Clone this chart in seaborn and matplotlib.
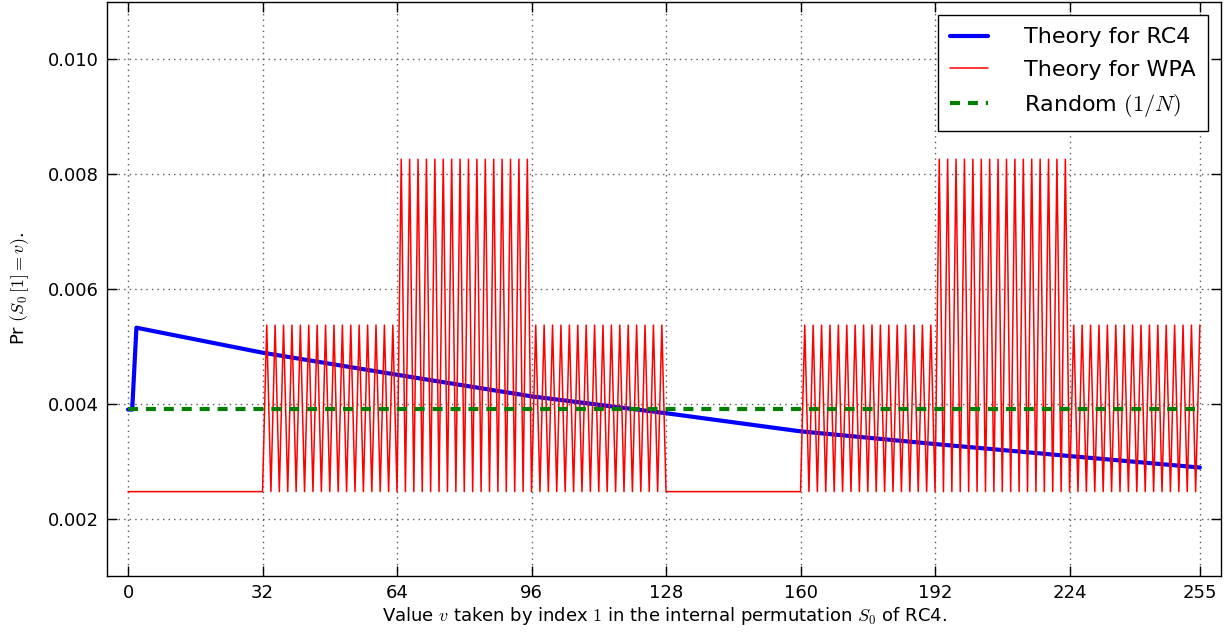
import numpy as np
import pandas as pd
import matplotlib
matplotlib.use("Agg")
import matplotlib.pyplot as plt
import seaborn as sns

# --- data ---
RC4_V = [0, 1, 2, 32, 64, 96, 128, 160, 192, 224, 255]
RC4_P = [0.0039, 0.0039, 0.005325, 0.00489, 0.004506, 0.00413, 0.003836,
         0.00352, 0.003299, 0.00309, 0.00289]

# WPA levels per value v (L = low, M = mid, H = high), 8 blocks of 32
WPA_LEVELS = {"L": 0.00247, "M": 0.00537, "H": 0.00826}
WPA_BLOCKS = [
    "LLLLLLLLLLLLLLLLLLLLLLLLLLLLLLLL",
    "LMLMLMLMLMLMLMLMLMLMLMLMLMLMLMLM",
    "LHLHLHLHLHLHLHLHLHLHLHLHLHLHLHLH",
    "LMLMLMLMLMLMLMLMLMLMLMLMLMLMLMLM",
    "LLLLLLLLLLLLLLLLLLLLLLLLLLLLLLLL",
    "LMLMLMLMLMLMLMLMLMLMLMLMLMLMLMLM",
    "LHLHLHLHLHLHLHLHLHLHLHLHLHLHLHLH",
    "LMLMLMLMLMLMLMLMLMLMLMLMLMLMLMLM",
]
RANDOM_V = [0, 255]
RANDOM_P = [0.00390625, 0.00390625]

X_TICKS = [0, 32, 64, 96, 128, 160, 192, 224, 255]
Y_TICKS = [0.002, 0.004, 0.006, 0.008, 0.010]

wpa_codes = "".join(WPA_BLOCKS)
wpa = pd.DataFrame({"v": range(len(wpa_codes)),
                    "p": [WPA_LEVELS[c] for c in wpa_codes]})
rc4 = pd.DataFrame({"v": RC4_V, "p": RC4_P})
rnd = pd.DataFrame({"v": RANDOM_V, "p": RANDOM_P})

sns.set_style("ticks")
plt.rcParams["font.family"] = ["DejaVu Sans"]
plt.rcParams["mathtext.fontset"] = "cm"
plt.rcParams["text.color"] = "k"
plt.rcParams["axes.labelcolor"] = "k"

fig, ax = plt.subplots(figsize=(12.27, 6.33), dpi=100)
fig.subplots_adjust(left=0.0872, right=0.995, top=0.997, bottom=0.09)

sns.lineplot(data=rc4, x="v", y="p", ax=ax, color="#0000ff", lw=3,
             label="Theory for RC4", estimator=None, sort=False)
sns.lineplot(data=wpa, x="v", y="p", ax=ax, color="#ff0000", lw=1.1,
             label="Theory for WPA", estimator=None, sort=False)
sns.lineplot(data=rnd, x="v", y="p", ax=ax, color="#008000", lw=3,
             linestyle=(0, (2.4, 1.9)), label=r"Random $(1/N)$",
             estimator=None, sort=False)

ax.set_xlim(-5, 260)
ax.set_ylim(0.001, 0.011)
ax.set_xticks(X_TICKS)
ax.set_yticks(Y_TICKS)
ax.set_yticklabels([f"{t:.3f}" for t in Y_TICKS])
ax.grid(True, linestyle=(0, (1, 3)), color="0.35", lw=1)
ax.tick_params(direction="in", length=7, width=1, top=True, right=True,
               labelsize=13, colors="k")
ax.tick_params(axis="x", pad=6)
ax.tick_params(axis="y", pad=6)
for s in ax.spines.values():
    s.set_visible(True)
    s.set_color("k")
    s.set_linewidth(1)

ax.set_xlabel(r"Value $v$ taken by index $1$ in the internal permutation $S_0$ of RC4.",
              fontsize=13, labelpad=2)
ax.set_ylabel(r"Pr $(S_0\,[1]=v)$.", fontsize=13, labelpad=12)

leg = ax.legend(loc="upper right", fontsize=16, fancybox=False,
                framealpha=1, borderaxespad=0.6, handlelength=1.7,
                handletextpad=1.6, labelspacing=0.55, borderpad=0.55)
leg.get_frame().set_edgecolor("k")
leg.get_frame().set_linewidth(1)

fig.savefig("out.png", dpi=100)
